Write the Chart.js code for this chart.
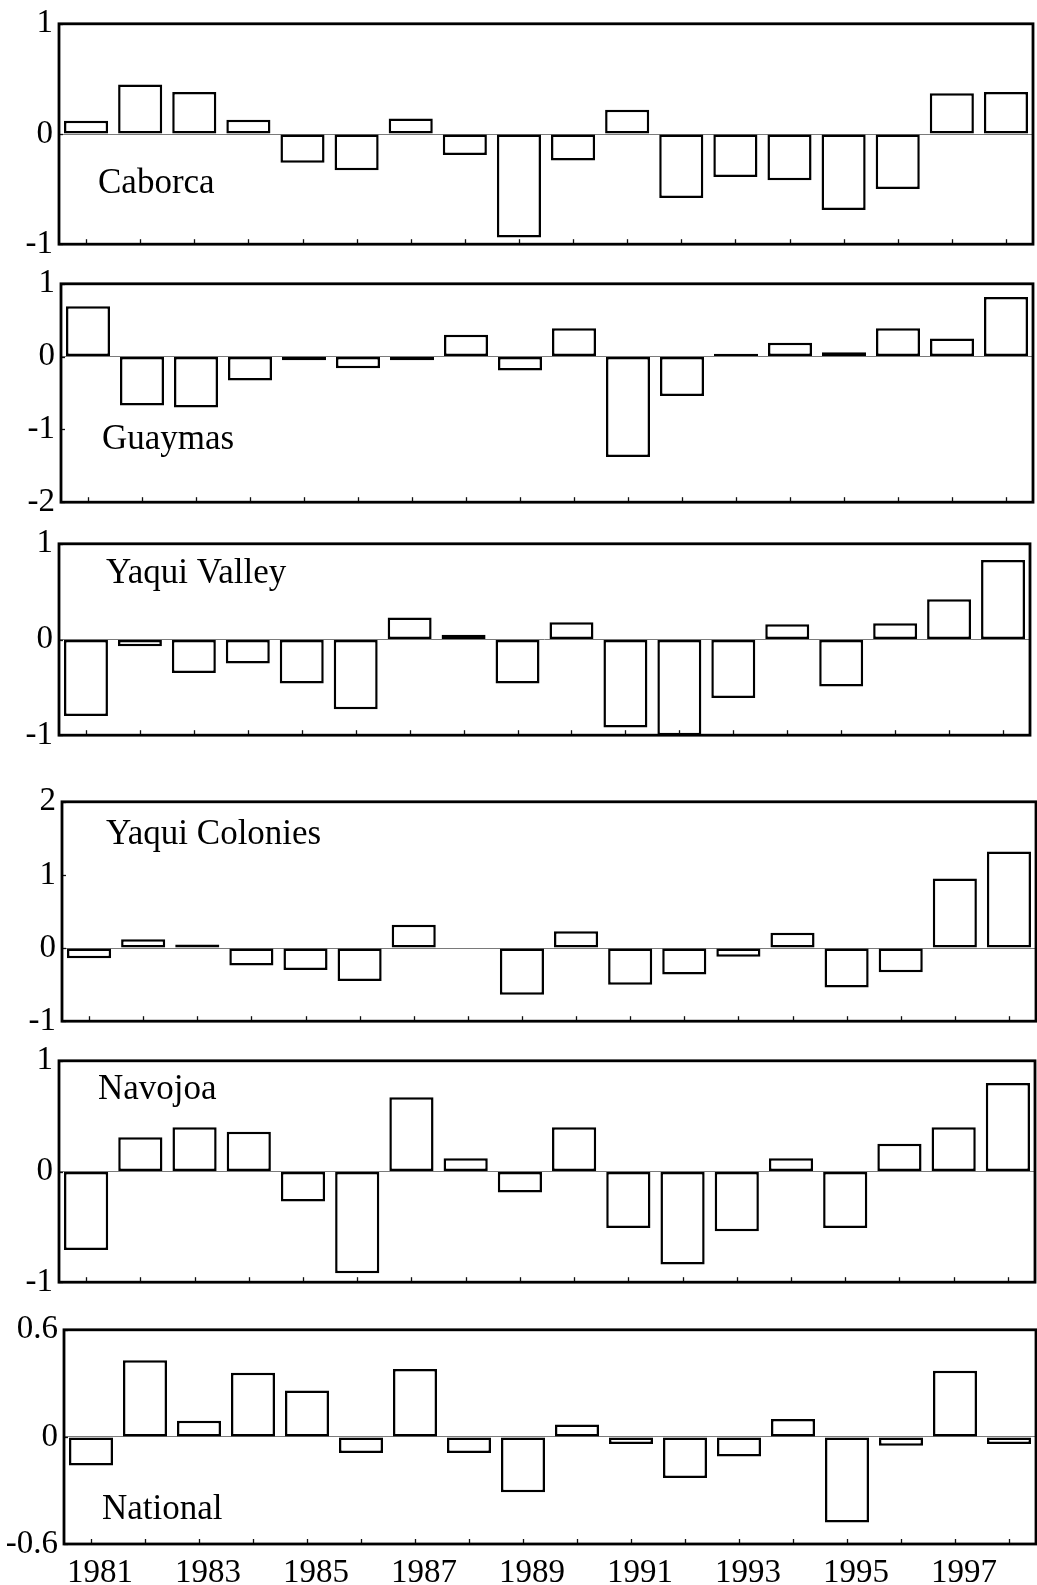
<!DOCTYPE html>
<html>
<head>
<meta charset="utf-8">
<script src="https://cdn.jsdelivr.net/npm/chart.js@4.4.1/dist/chart.umd.min.js"></script>
<style>
  html, body { margin: 0; padding: 0; background: #fff; }
  #wrap { position: relative; width: 1037px; height: 1585px; overflow: hidden; background: #fff; }
  #wrap canvas { position: absolute; left: 0; }
</style>
</head>
<body>
<div id="wrap"></div>
<script>
// Annual deviations by region, 1981-1998
const years = ['1981','1982','1983','1984','1985','1986','1987','1988','1989',
               '1990','1991','1992','1993','1994','1995','1996','1997','1998'];
const yearTickLabels = ['1981','','1983','','1985','','1987','','1989',
                        '','1991','','1993','','1995','','1997',''];

const caborca       = [0.12, 0.45, 0.38, 0.13, -0.26, -0.33, 0.14, -0.19, -0.94,
                       -0.24, 0.22, -0.58, -0.39, -0.42, -0.69, -0.50, 0.37, 0.38];
const guaymas       = [0.69, -0.67, -0.70, -0.33, -0.05, -0.16, -0.05, 0.30, -0.19,
                       0.39, -1.38, -0.54, 0.04, 0.19, 0.06, 0.39, 0.25, 0.82];
const yaquiValley   = [-0.80, -0.07, -0.35, -0.25, -0.46, -0.73, 0.23, 0.05, -0.46,
                       0.18, -0.92, -1.00, -0.61, 0.16, -0.49, 0.17, 0.42, 0.83];
const yaquiColonies = [-0.14, 0.12, 0.05, -0.24, -0.30, -0.45, 0.32, null, -0.64,
                       0.23, -0.50, -0.36, -0.12, 0.21, -0.54, -0.33, 0.95, 1.32];
const navojoa       = [-0.71, 0.31, 0.40, 0.36, -0.27, -0.92, 0.67, 0.12, -0.19,
                       0.40, -0.51, -0.84, -0.54, 0.12, -0.51, 0.25, 0.40, 0.80];
const national      = [-0.16, 0.43, 0.09, 0.36, 0.26, -0.09, 0.38, -0.09, -0.31,
                       0.07, -0.04, -0.23, -0.11, 0.10, -0.48, -0.05, 0.37, -0.04];

const caborcaTicks       = [-1, 0, 1];
const guaymasTicks       = [-2, -1, 0, 1];
const yaquiValleyTicks   = [-1, 0, 1];
const yaquiColoniesTicks = [-1, 0, 1, 2];
const navojoaTicks       = [-1, 0, 1];
const nationalTicks      = [-0.6, 0, 0.6];

// Panel frames (page pixels) and name placement
const panels = [
  { name: 'Caborca',        values: caborca,       ticks: caborcaTicks,       top: 18,   bottom: 250,  left: 59, right: 1033, nameX: 98,  nameY: 193 },
  { name: 'Guaymas',        values: guaymas,       ticks: guaymasTicks,       top: 278,  bottom: 508,  left: 61, right: 1033, nameX: 102, nameY: 449 },
  { name: 'Yaqui Valley',   values: yaquiValley,   ticks: yaquiValleyTicks,   top: 538,  bottom: 741,  left: 59, right: 1030, nameX: 106, nameY: 583 },
  { name: 'Yaqui Colonies', values: yaquiColonies, ticks: yaquiColoniesTicks, top: 796,  bottom: 1027, left: 62, right: 1036, nameX: 106, nameY: 844 },
  { name: 'Navojoa',        values: navojoa,       ticks: navojoaTicks,       top: 1055, bottom: 1288, left: 59, right: 1035, nameX: 98,  nameY: 1099 },
  { name: 'National',       values: national,      ticks: nationalTicks,      top: 1324, bottom: 1544, left: 64, right: 1036, nameX: 102, nameY: 1519 }
];

const SERIF = '"Liberation Serif", "Times New Roman", Times, serif';
const PAGE_W = 1037, PAGE_H = 1585, PAD = 20;

// Frame, inward tick marks and panel name
const framePlugin = {
  id: 'frame',
  afterDraw(chart, args, opts) {
    const { ctx, chartArea: a, scales } = chart;
    ctx.save();
    ctx.strokeStyle = '#111';
    ctx.lineWidth = 1.3;
    const xs = scales.x, ys = scales.y;
    for (let i = 0; i < xs.ticks.length; i++) {
      const px = Math.round(xs.getPixelForTick(i)) + 0.5;
      ctx.beginPath();
      ctx.moveTo(px, a.bottom);
      ctx.lineTo(px, a.bottom - 5);
      ctx.stroke();
    }
    ys.ticks.forEach(t => {
      const py = Math.round(ys.getPixelForValue(t.value)) + 0.5;
      ctx.beginPath();
      ctx.moveTo(a.left, py);
      ctx.lineTo(a.left + 4, py);
      ctx.stroke();
    });
    ctx.strokeStyle = '#000';
    ctx.lineWidth = 2.8;
    ctx.strokeRect(a.left, a.top, a.right - a.left, a.bottom - a.top);
    ctx.fillStyle = '#000';
    ctx.font = '35px ' + SERIF;
    ctx.textAlign = 'left';
    ctx.textBaseline = 'alphabetic';
    ctx.fillText(opts.name, opts.x, opts.y);
    ctx.restore();
  }
};

const wrap = document.getElementById('wrap');

panels.forEach((p, idx) => {
  const isLast = idx === panels.length - 1;
  const canvasTop = p.top - PAD;
  const plotH = p.bottom - p.top;
  const canvasH = isLast ? (PAGE_H - canvasTop) : (plotH + 2 * PAD);
  const xHeight = isLast ? (canvasH - PAD - plotH) : 0;

  const canvas = document.createElement('canvas');
  canvas.width = PAGE_W;
  canvas.height = canvasH;
  canvas.style.width = PAGE_W + 'px';
  canvas.style.height = canvasH + 'px';
  canvas.style.top = canvasTop + 'px';
  wrap.appendChild(canvas);

  new Chart(canvas.getContext('2d'), {
    type: 'bar',
    data: {
      labels: years,
      datasets: [{
        data: p.values,
        backgroundColor: '#ffffff',
        borderColor: '#000000',
        borderWidth: 2.5,
        borderSkipped: false,
        barPercentage: 0.815,
        categoryPercentage: 1.0
      }]
    },
    options: {
      responsive: false,
      animation: false,
      devicePixelRatio: 1,
      layout: { padding: { top: PAD, bottom: isLast ? 0 : PAD, left: 0, right: PAGE_W - p.right } },
      plugins: {
        legend: { display: false },
        tooltip: { enabled: false },
        frame: { name: p.name, x: p.nameX, y: p.nameY - canvasTop }
      },
      scales: {
        x: {
          grid: { display: false },
          border: { display: false },
          ticks: {
            display: isLast,
            autoSkip: false,
            maxRotation: 0,
            minRotation: 0,
            padding: 2,
            labelOffset: 9,
            color: '#000',
            font: { family: SERIF, size: 33 },
            callback: (v, i) => yearTickLabels[i]
          },
          afterFit(s) { s.height = xHeight; }
        },
        y: {
          min: p.ticks[0],
          max: p.ticks[p.ticks.length - 1],
          afterBuildTicks(s) { s.ticks = p.ticks.map(v => ({ value: v })); },
          afterFit(s) { s.width = p.left; },
          border: { display: false },
          grid: {
            drawTicks: false,
            lineWidth: 1,
            color: c => (c.tick && c.tick.value === 0) ? '#7a7a7a' : 'rgba(0,0,0,0)'
          },
          ticks: {
            padding: 6,
            color: '#000',
            font: { family: SERIF, size: 33 },
            callback: v => String(v)
          }
        }
      }
    },
    plugins: [framePlugin]
  });
});
</script>
</body>
</html>
